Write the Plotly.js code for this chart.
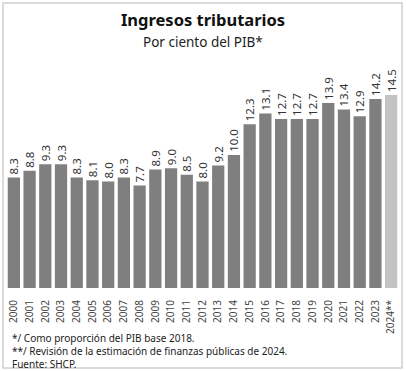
<!DOCTYPE html>
<html>
<head>
<meta charset="utf-8">
<script src="https://cdn.plot.ly/plotly-3.0.1.min.js"></script>
<style>html,body{margin:0;padding:0;background:#fff;}#chart{width:406px;height:371px;}</style>
</head>
<body>
<div id="chart"></div>
<script>
var years = ["2000","2001","2002","2003","2004","2005","2006","2007","2008","2009","2010","2011","2012","2013","2014","2015","2016","2017","2018","2019","2020","2021","2022","2023","2024**"];
var values = [8.3,8.8,9.3,9.3,8.3,8.1,8.0,8.3,7.7,8.9,9.0,8.5,8.0,9.2,10.0,12.3,13.1,12.7,12.7,12.7,13.9,13.4,12.9,14.2,14.5];
var labels = values.map(function(v){return v.toFixed(1);});
var colors = years.map(function(y){return y.indexOf("**")>=0 ? "#c3c3c3" : "#7f7f7f";});
var titleText = "<b>Ingresos tributarios</b>";
var subtitleText = "Por ciento del PIB*";
var notes = ["*/ Como proporción del PIB base 2018.","**/ Revisión de la estimación de finanzas públicas de 2024.","Fuente: SHCP."];

var font = "Noto Sans, Open Sans, sans-serif";
var trace = {
  type: "bar", x: years, y: values, text: labels,
  textposition: "outside", textangle: -90, cliponaxis: false, constraintext: "none",
  textfont: {family: font, size: 11.5, color: "#333"},
  marker: {color: colors}, hoverinfo: "none"
};
var L = 6, R = 7, T = 75, B = 83;
var pw = 406 - L - R, ph = 371 - T - B;
function px(x){return (x - L)/pw;}
function py(y){return (371 - B - y)/ph;}
var ann = [{text: subtitleText, xref: "paper", yref: "paper", x: px(203), y: py(42), xanchor: "center", yanchor: "middle", showarrow: false, font: {family: font, size: 13.5, color: "#222"}}];
ann.push({text: notes.join("<br>"), align: "left", xref: "paper", yref: "paper", x: px(11), y: py(350.5), xanchor: "left", yanchor: "middle", showarrow: false, borderpad: 0, font: {family: font, size: 10, color: "#222"}});
var layout = {
  width: 406, height: 371,
  margin: {l: L, r: R, t: T, b: B, pad: 0},
  paper_bgcolor: "#fff", plot_bgcolor: "#fff",
  title: {text: titleText, x: 0.5, xanchor: "center", y: 1 - 20/371, yanchor: "middle", yref: "container", font: {family: font, size: 16.5, color: "#111"}},
  bargap: 0.22,
  showlegend: false,
  xaxis: {type: "category", tickangle: -90, tickfont: {family: font, size: 10, color: "#444"}, showline: false, ticks: "outside", ticklen: 7, tickcolor: "rgba(0,0,0,0)", showgrid: false, zeroline: false, automargin: false},
  yaxis: {range: [0, 16], visible: false, showgrid: false, zeroline: false},
  annotations: ann,
  shapes: [{type: "rect", xref: "paper", yref: "paper", x0: px(3), x1: px(402), y0: py(368), y1: py(3), line: {color: "#cfcfcf", width: 1.5}, layer: "below"}]
};
Plotly.newPlot("chart", [trace], layout, {staticPlot: true, displayModeBar: false});
</script>
</body>
</html>
